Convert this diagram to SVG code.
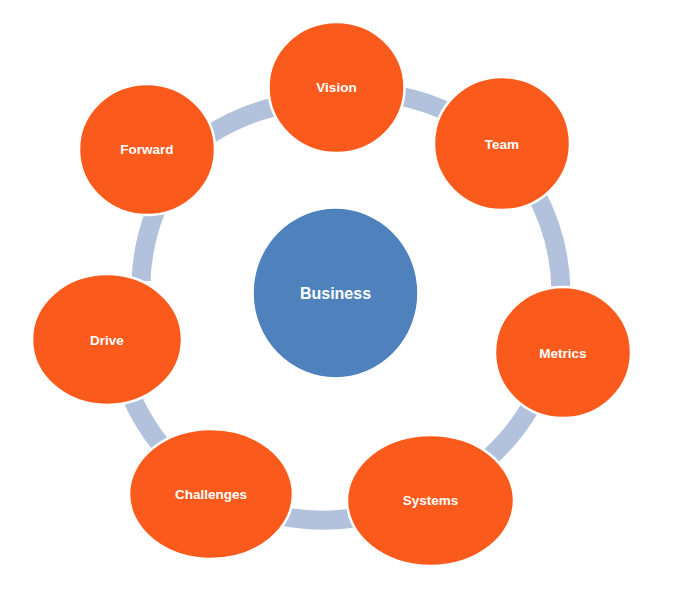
<svg xmlns="http://www.w3.org/2000/svg" width="684" height="591" viewBox="0 0 684 591">
<style>
.arc{fill:none;stroke:#B2C2DD;stroke-width:19;stroke-linecap:butt}
.node{fill:#FA5A1B;stroke:#FFFFFF;stroke-width:2.5}
.lbl{font-family:"Liberation Sans",Arial,sans-serif;font-weight:bold;font-size:13.5px;fill:#FFFFFF;text-anchor:middle}
.hub{fill:#4F81BD;stroke:#FFFFFF;stroke-width:1.5}
.hublbl{font-family:"Liberation Sans",Arial,sans-serif;font-weight:bold;font-size:16px;fill:#FFFFFF;text-anchor:middle}
</style>
<rect width="684" height="591" fill="#FFFFFF"/>
<g id="connectors">
<path class="arc" d="M402,96.5 A215,215 0 0 1 447,111.5"/>
<path class="arc" d="M535.5,193 A215,215 0 0 1 561,290"/>
<path class="arc" d="M531,406 A215,215 0 0 1 490,457"/>
<path class="arc" d="M354,518 A215,215 0 0 1 281,516"/>
<path class="arc" d="M160,444 A215,215 0 0 1 132.5,399"/>
<path class="arc" d="M141,281 A215,215 0 0 1 155.5,211"/>
<path class="arc" d="M209,135 A215,215 0 0 1 276,106.5"/>
</g>
<g id="business">
<ellipse class="hub" cx="335.5" cy="293" rx="82.5" ry="85"/>
<text class="hublbl" x="335.5" y="299">Business</text>
</g>
<g id="vision">
<ellipse class="node" cx="336.5" cy="87.5" rx="68" ry="65.5"/>
<text class="lbl" x="336.5" y="92">Vision</text>
</g>
<g id="team">
<ellipse class="node" cx="502" cy="143.5" rx="68" ry="66.5"/>
<text class="lbl" x="502" y="149">Team</text>
</g>
<g id="metrics">
<ellipse class="node" cx="563" cy="352.5" rx="68" ry="65.5"/>
<text class="lbl" x="563" y="358">Metrics</text>
</g>
<g id="systems">
<ellipse class="node" cx="430.5" cy="500.5" rx="83.5" ry="65.5"/>
<text class="lbl" x="430.5" y="505">Systems</text>
</g>
<g id="challenges">
<ellipse class="node" cx="211" cy="494" rx="82" ry="65"/>
<text class="lbl" x="211" y="499">Challenges</text>
</g>
<g id="drive">
<ellipse class="node" cx="107" cy="339.5" rx="75" ry="65.5"/>
<text class="lbl" x="107" y="345">Drive</text>
</g>
<g id="forward">
<ellipse class="node" cx="147" cy="149.5" rx="68" ry="65.5"/>
<text class="lbl" x="147" y="154">Forward</text>
</g>
</svg>
